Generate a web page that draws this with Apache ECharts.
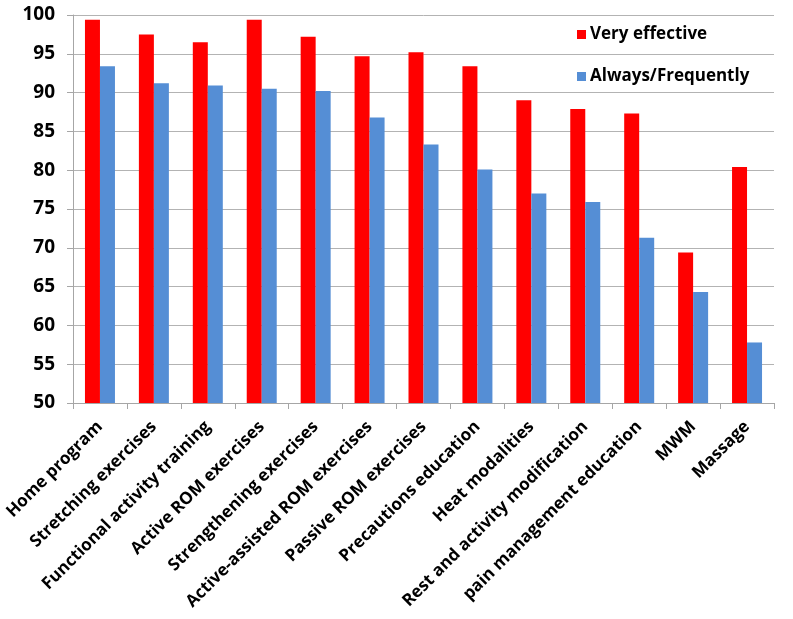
<!DOCTYPE html>
<html>
<head>
<meta charset="utf-8">
<script src="https://cdn.jsdelivr.net/npm/echarts@6/dist/echarts.min.js"></script>
<style>
html,body{margin:0;padding:0;background:#fff;}
#chart{width:793px;height:619px;}
</style>
</head>
<body>
<div id="chart"></div>
<script>
var categories = ["Home program","Stretching exercises","Functional activity training","Active ROM exercises","Strengthening exercises","Active-assisted ROM exercises","Passive ROM exercises","Precautions education","Heat modalities","Rest and activity modification","pain management education","MWM","Massage"];
var veryEffective = [99.4, 97.5, 96.5, 99.4, 97.2, 94.7, 95.2, 93.4, 89.0, 87.9, 87.3, 69.4, 80.4];
var alwaysFrequently = [93.4, 91.2, 90.9, 90.5, 90.2, 86.8, 83.3, 80.1, 77.0, 75.9, 71.3, 64.3, 57.8];
var yTicks = [50, 55, 60, 65, 70, 75, 80, 85, 90, 95, 100];

var FONT = 'Open Sans';
var chart = echarts.init(document.getElementById('chart'));
chart.setOption({
  animation: false,
  backgroundColor: '#fff',
  grid: {left: 73, right: 19, top: 15, bottom: 216, containLabel: false},
  legend: {
    orient: 'vertical',
    left: 572,
    top: 21,
    itemWidth: 9,
    itemHeight: 9,
    itemGap: 25,
    icon: 'rect',
    textStyle: {fontFamily: FONT, fontWeight: 'bold', fontSize: 17, color: '#000', padding: [0,0,0,-1]},
    data: ['Very effective', 'Always/Frequently']
  },
  xAxis: {
    type: 'category',
    data: categories,
    axisLine: {lineStyle: {color: '#a6a6a6', width: 1}},
    axisTick: {show: true, length: 6, lineStyle: {color: '#a6a6a6'}},
    axisLabel: {rotate: 45, interval: 0, margin: 21, color: '#000', fontFamily: FONT, fontWeight: 'bold', fontSize: 17}
  },
  yAxis: {
    type: 'value',
    min: yTicks[0],
    max: yTicks[yTicks.length - 1],
    interval: 5,
    axisLine: {show: true, lineStyle: {color: '#a6a6a6', width: 1}},
    axisTick: {show: true, length: 6, lineStyle: {color: '#a6a6a6'}},
    splitLine: {lineStyle: {color: '#b3b3b3', width: 1}},
    axisLabel: {margin: 18, color: '#000', fontFamily: FONT, fontWeight: 'bold', fontSize: 19}
  },
  series: [
    {name: 'Very effective', type: 'bar', data: veryEffective, barWidth: 15, barGap: '0%', itemStyle: {color: '#ff0000'}},
    {name: 'Always/Frequently', type: 'bar', data: alwaysFrequently, barWidth: 15, barGap: '0%', itemStyle: {color: '#558ed5'}}
  ]
});
</script>
</body>
</html>
